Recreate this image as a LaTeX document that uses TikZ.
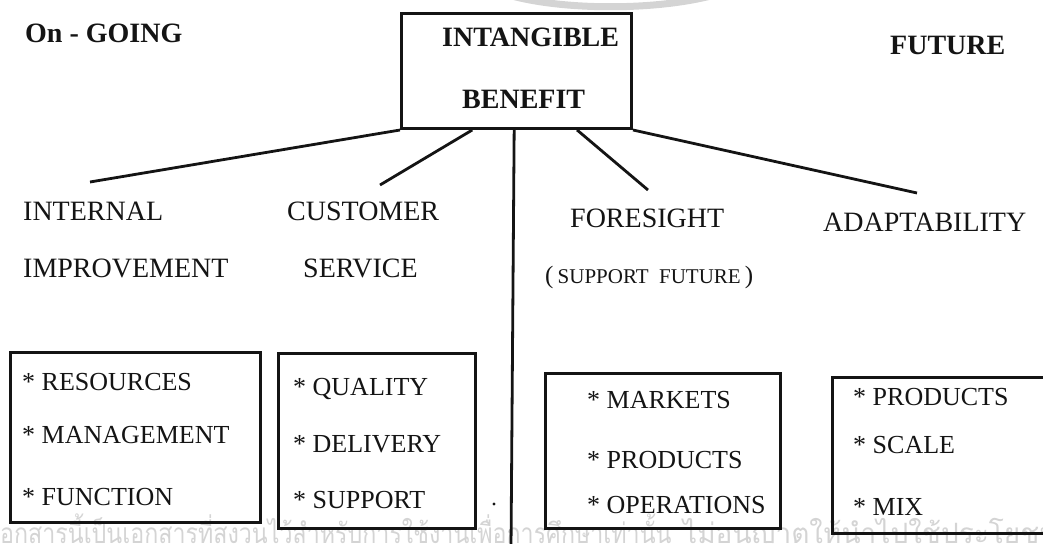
\documentclass[tikz,border=0pt]{standalone}
\usepackage{fontspec}
\setmainfont{Liberation Serif}
\newfontfamily\thaifont[Script=Thai]{Loma}
\usetikzlibrary{calc}
\definecolor{inkblack}{RGB}{20,20,20}
\definecolor{markgray}{RGB}{212,212,212}
\tikzset{
  heading/.style={anchor=base west, inner sep=0pt, font=\fontsize{28}{30}\selectfont\bfseries, text=inkblack},
  branch/.style={anchor=base west, inner sep=0pt, font=\fontsize{28}{30}\selectfont, text=inkblack},
  item/.style={anchor=base west, inner sep=0pt, font=\fontsize{26}{28}\selectfont, text=inkblack},
  listbox/.style={draw=inkblack, line width=3pt, inner sep=0pt},
  rootbox/.style={draw=inkblack, line width=3pt, inner sep=0pt, fill=white},
  link/.style={draw=inkblack, line width=2.8pt},
  stamp/.style={anchor=base west, inner sep=0pt, text=markgray, font=\thaifont\fontsize{28}{30}\selectfont}
}
\begin{document}
\begin{tikzpicture}[x=1pt,y=-1pt]
\useasboundingbox (0,0) rectangle (1043,543);
\clip (0,0) rectangle (1043,543);

% faint seal outline at the top edge
\draw[markgray, line width=7pt] (505,-6) .. controls (560,11) and (660,11) .. (718,-6);

% footer notice
\node[stamp] (note1) at (-8,543) {\scalebox{0.83}[1]{เอกสารนี้เป็นเอกสารที่สงวนไว้สำหรับการใช้งานเพื่อการศึกษาเท่านั้น}};
\node[stamp] (note2) at (683,543) {ไม่อนุญาตให้นำไปใช้ประโยชน์};

% root
\node[rootbox, minimum width=230pt, minimum height=115pt] (root) at (516.5,71) {};
\node[heading] (t1) at (442,47) {INTANGIBLE};
\node[heading] (t2) at (462,108) {BENEFIT};

\node[heading] (ongoing) at (25,42) {On - GOING};
\node[heading] (future) at (890,55) {FUTURE};

% branch labels
\node[branch] (int1) at (23,220) {INTERNAL};
\node[branch] (int2) at (23,277) {IMPROVEMENT};
\node[branch] (cus1) at (287,220) {CUSTOMER};
\node[branch] (cus2) at (303,277) {SERVICE};
\node[branch] (for1) at (570,227) {FORESIGHT};
\node[anchor=base west, inner sep=0pt, text=inkblack] (for2) at (545,283)
  {\fontsize{25}{27}\selectfont(\,{\fontsize{21}{23}\selectfont SUPPORT\ \ FUTURE}\,)};
\node[branch] (ada1) at (823,231) {ADAPTABILITY};

% connector ends
\coordinate (eInt) at (90,182);
\coordinate (eCus) at (380,185);
\coordinate (eFor) at (648,190);
\coordinate (eAda) at (917,193);
\coordinate (eMid) at (511,548);

\draw[link] (root.south west) -- (eInt);
\draw[link] ($(root.south west)!0.31!(root.south east)$) -- (eCus);
\draw[link] ($(root.south west)!0.49!(root.south east)$) -- (eMid);
\draw[link] ($(root.south west)!0.76!(root.south east)$) -- (eFor);
\draw[link] (root.south east) -- (eAda);

% lists
\node[listbox, minimum width=250pt, minimum height=170pt] (box1) at (135,437) {};
\node[item] (r1) at (22,390) {* RESOURCES};
\node[item] (r2) at (22,443) {* MANAGEMENT};
\node[item] (r3) at (22,505) {* FUNCTION};

\node[listbox, minimum width=197pt, minimum height=175pt] (box2) at (376.5,440.5) {};
\node[item] (q1) at (293,395) {* QUALITY};
\node[item] (q2) at (293,452) {* DELIVERY};
\node[item] (q3) at (293,508) {* SUPPORT};
\fill[inkblack] (494,504) circle (1.6pt);

\node[listbox, minimum width=235pt, minimum height=155pt] (box3) at (662.5,450.5) {};
\node[item] (m1) at (587,408) {* MARKETS};
\node[item] (m2) at (587,468) {* PRODUCTS};
\node[item] (m3) at (587,513) {* OPERATIONS};

\node[listbox, minimum width=230pt, minimum height=156pt] (box4) at (947,455) {};
\node[item] (p1) at (853,405) {* PRODUCTS};
\node[item] (p2) at (853,453) {* SCALE};
\node[item] (p3) at (853,515) {* MIX};
\end{tikzpicture}
\end{document}
